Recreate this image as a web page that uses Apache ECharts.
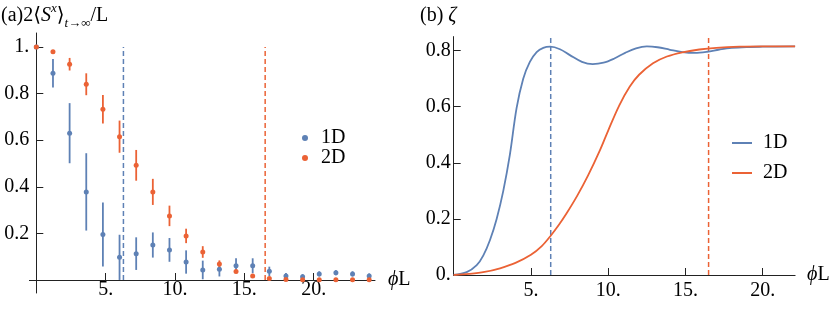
<!DOCTYPE html>
<html>
<head>
<meta charset="utf-8">
<script src="https://cdn.jsdelivr.net/npm/echarts@6/dist/echarts.min.js"></script>
<style>
html,body{margin:0;padding:0;background:#fff;}
#chart{width:830px;height:310px;}
</style>
</head>
<body>
<div id="chart"></div>
<script>
// ---------- data ----------
const phiL = [0, 1.2, 2.4, 3.6, 4.8, 6.0, 7.2, 8.4, 9.6, 10.8, 12.0, 13.2, 14.4, 15.6, 16.8, 18.0, 19.2, 20.4, 21.6, 22.8, 24.0];
const sx1D = [1.0, 0.887, 0.63, 0.378, 0.195, 0.097, 0.113, 0.15, 0.129, 0.077, 0.043, 0.046, 0.061, 0.061, 0.037, 0.017, 0.014, 0.026, 0.031, 0.026, 0.017];
const sx1DErr = [0, 0.061, 0.129, 0.166, 0.137, 0.097, 0.07, 0.054, 0.051, 0.05, 0.04, 0.031, 0.032, 0.032, 0.02, 0.013, 0.011, 0.011, 0.011, 0.011, 0.011];
const sx2D = [1.0, 0.979, 0.926, 0.84, 0.733, 0.615, 0.492, 0.378, 0.275, 0.189, 0.12, 0.069, 0.036, 0.017, 0.006, 0.002, 0.001, 0.001, 0.001, 0.001, 0.001];
const sx2DErr = [0, 0.005, 0.027, 0.047, 0.061, 0.069, 0.066, 0.056, 0.044, 0.031, 0.025, 0.015, 0.006, 0.003, 0.002, 0.001, 0.001, 0.001, 0.001, 0.001, 0.001];

const zeta1DX = [0, 0.84, 1.49, 1.92, 2.35, 2.78, 3.21, 3.64, 4.07, 4.5, 4.93, 5.37, 5.8, 6.25, 6.88, 7.52, 8.3, 9.0, 9.7, 10.4, 11.1, 11.8, 12.5, 13.2, 14.0, 14.8, 15.6, 16.4, 17.2, 18.0, 19.0, 20.0, 22.1];
const zeta1DY = [0, 0.01, 0.035, 0.07, 0.125, 0.2, 0.3, 0.43, 0.595, 0.7, 0.76, 0.795, 0.81, 0.814, 0.805, 0.784, 0.76, 0.752, 0.757, 0.772, 0.792, 0.808, 0.815, 0.812, 0.803, 0.795, 0.792, 0.796, 0.804, 0.81, 0.813, 0.814, 0.815];
const zeta2DX = [0, 1.0, 2.0, 3.0, 4.0, 5.0, 5.7, 6.28, 6.8, 7.31, 8.0, 8.7, 9.47, 10.0, 10.72, 11.4, 12.0, 12.9, 13.8, 14.8, 15.9, 17.0, 18.5, 20.0, 22.1];
const zeta2DY = [0, 0.004, 0.011, 0.024, 0.043, 0.072, 0.103, 0.14, 0.178, 0.22, 0.283, 0.355, 0.445, 0.515, 0.605, 0.672, 0.714, 0.755, 0.779, 0.794, 0.804, 0.81, 0.814, 0.815, 0.815];

const thresholds = [6.28, 16.5];           // dashed markers: 1D, 2D
const xTicks = [5, 10, 15, 20];
const xTickLabels = ['5.', '10.', '15.', '20.'];
const yTicksA = [0.2, 0.4, 0.6, 0.8, 1.0];
const yTickLabelsA = ['0.2', '0.4', '0.6', '0.8', '1.'];
const yTicksB = [0, 0.2, 0.4, 0.6, 0.8];
const yTickLabelsB = ['0.', '0.2', '0.4', '0.6', '0.8'];

// ---------- style ----------
const BLUE = '#5E81B5', ORANGE = '#EB6235', AX = '#222';
const FONT = "'Liberation Serif', 'DejaVu Serif', serif";
const FS = 20;

function labelFrom(ticks, labels) {
  return v => { const i = ticks.findIndex(t => Math.abs(t - v) < 1e-9); return i >= 0 ? labels[i] : ''; };
}
function errData(mean, err) { return phiL.map((x, i) => [x, mean[i] - err[i], mean[i] + err[i]]); }
function errSeries(name, mean, err, color) {
  return {
    type: 'custom', name: name, xAxisIndex: 0, yAxisIndex: 0, z: 2,
    data: errData(mean, err), encode: { x: 0, y: [1, 2] },
    renderItem: (params, api) => {
      const x = api.value(0);
      const p1 = api.coord([x, api.value(1)]), p2 = api.coord([x, api.value(2)]);
      return { type: 'line', shape: { x1: p1[0], y1: p1[1], x2: p2[0], y2: p2[1] },
               style: { stroke: color, lineWidth: 1.8 } };
    }
  };
}
function dashSeries(x, top, color, axisIdx) {
  return { type: 'line', xAxisIndex: axisIdx, yAxisIndex: axisIdx, data: [[x, 0], [x, top]],
           symbol: 'none', silent: true, z: 1,
           lineStyle: { color: color, width: 1.5, type: [5, 3] } };
}
const lineStyleAx = { color: AX, width: 1 };
const tickStyle = (vals) => ({ inside: true, length: 7, customValues: vals, lineStyle: { color: AX, width: 1 } });
const labelStyle = (vals, labels, margin) => ({ customValues: vals, formatter: labelFrom(vals, labels), margin: margin,
                                               fontFamily: FONT, fontSize: FS, color: '#000' });
const nameRich = {
  i: { fontFamily: FONT, fontSize: FS, fontStyle: 'italic', color: '#000' },
  n: { fontFamily: FONT, fontSize: FS, color: '#000' }
};
const tN = { fontFamily: FONT, fontSize: FS, lineHeight: 28, fontWeight: 'normal', color: '#000' };
const tI = Object.assign({}, tN, { fontStyle: 'italic' });

const chart = echarts.init(document.getElementById('chart'), null, { renderer: 'canvas' });
const option = {
  animation: false,
  backgroundColor: '#fff',
  title: [
    {
      text: '{n|(a)2⟨}{i|S}{sup|x}{n|⟩}{sub|t→∞}{n|/L}', left: 1, top: 2, padding: 0,
      textStyle: { fontWeight: 'normal', rich: {
        n: tN, i: tI,
        sup: { fontFamily: FONT, fontSize: 13, lineHeight: 14, fontStyle: 'italic', fontWeight: 'normal', verticalAlign: 'top', color: '#000' },
        sub: { fontFamily: FONT, fontSize: 13, lineHeight: 14, fontStyle: 'italic', fontWeight: 'normal', verticalAlign: 'bottom', color: '#000' }
      } }
    },
    {
      text: '{n|(b) }{i|ζ}', left: 420, top: 2, padding: 0,
      textStyle: { fontWeight: 'normal', rich: { n: tN, i: tI } }
    }
  ],
  legend: [
    {
      data: [{ name: '1D', icon: 'circle' }, { name: '2D', icon: 'circle' }],
      orient: 'vertical', left: 302, top: 128, padding: 0, itemGap: 0,
      itemWidth: 6, itemHeight: 6, selectedMode: false,
      formatter: '{g|}{t|{name}}',
      textStyle: { rich: { g: { width: 8 }, t: { fontFamily: FONT, fontSize: FS, lineHeight: 20, color: '#000' } } }
    },
    {
      data: [{ name: '1D', icon: 'rect' }, { name: '2D', icon: 'rect' }],
      orient: 'vertical', left: 732, top: 133, padding: 0, itemGap: 10,
      itemWidth: 20, itemHeight: 2, selectedMode: false,
      formatter: '{g|}{t|{name}}',
      textStyle: { rich: { g: { width: 6 }, t: { fontFamily: FONT, fontSize: FS, lineHeight: 20, color: '#000' } } }
    }
  ],
  grid: [
    // panel (a): full extent, axis lines through the origin
    { left: 29.4, top: 33, width: 345.6, height: 260, containLabel: false, outerBoundsMode: 'none' },
    // panel (b)
    { left: 453.7, top: 36.6, width: 341.4, height: 238.4, containLabel: false, outerBoundsMode: 'none' },
    // panel (a): positive quadrant, carries ticks and tick labels at the origin lines
    { left: 36.3, top: 33, width: 338.7, height: 247, containLabel: false, outerBoundsMode: 'none' }
  ],
  xAxis: [
    { type: 'value', gridIndex: 0, min: -0.5, max: 24.42,
      axisLine: { onZero: true, lineStyle: lineStyleAx }, axisTick: { show: false }, axisLabel: { show: false },
      splitLine: { show: false },
      name: '{i|ϕ}{n|L}', nameLocation: 'end', nameGap: 13,
      nameTextStyle: { rich: nameRich, verticalAlign: 'middle' } },
    { type: 'value', gridIndex: 1, min: 0, max: 22.1,
      axisLine: { onZero: true, lineStyle: lineStyleAx }, axisTick: tickStyle(xTicks),
      axisLabel: labelStyle(xTicks, xTickLabels, 6), splitLine: { show: false },
      name: '{i|ϕ}{n|L}', nameLocation: 'end', nameGap: 12,
      nameTextStyle: { rich: nameRich, verticalAlign: 'middle' } },
    { type: 'value', gridIndex: 2, min: 0, max: 24.42,
      axisLine: { show: false }, axisTick: tickStyle(xTicks),
      axisLabel: labelStyle(xTicks, xTickLabels, 0), splitLine: { show: false } }
  ],
  yAxis: [
    { type: 'value', gridIndex: 0, min: -0.056, max: 1.06,
      axisLine: { onZero: true, lineStyle: lineStyleAx }, axisTick: { show: false }, axisLabel: { show: false },
      splitLine: { show: false } },
    { type: 'value', gridIndex: 1, min: 0, max: 0.85,
      axisLine: { onZero: true, lineStyle: lineStyleAx }, axisTick: tickStyle(yTicksB),
      axisLabel: labelStyle(yTicksB, yTickLabelsB, 3), splitLine: { show: false } },
    { type: 'value', gridIndex: 2, min: 0, max: 1.06,
      axisLine: { show: false }, axisTick: tickStyle(yTicksA),
      axisLabel: labelStyle(yTicksA, yTickLabelsA, 7), splitLine: { show: false } }
  ],
  series: [
    dashSeries(thresholds[0], 1.0, BLUE, 0),
    dashSeries(thresholds[1], 1.0, ORANGE, 0),
    dashSeries(thresholds[0], 0.85, BLUE, 1),
    dashSeries(thresholds[1], 0.85, ORANGE, 1),
    errSeries('err1D', sx1D, sx1DErr, BLUE),
    { type: 'scatter', name: '1D', xAxisIndex: 0, yAxisIndex: 0, z: 3, symbolSize: 5,
      itemStyle: { color: BLUE, opacity: 1 }, data: phiL.map((x, i) => [x, sx1D[i]]) },
    errSeries('err2D', sx2D, sx2DErr, ORANGE),
    { type: 'scatter', name: '2D', xAxisIndex: 0, yAxisIndex: 0, z: 4, symbolSize: 5,
      itemStyle: { color: ORANGE, opacity: 1 }, data: phiL.map((x, i) => [x, sx2D[i]]) },
    { type: 'line', name: '1D', xAxisIndex: 1, yAxisIndex: 1, smooth: 0.35, showSymbol: false, symbol: 'none',
      lineStyle: { color: BLUE, width: 1.8 }, itemStyle: { color: BLUE },
      data: zeta1DX.map((x, i) => [x, zeta1DY[i]]) },
    { type: 'line', name: '2D', xAxisIndex: 1, yAxisIndex: 1, smooth: 0.35, showSymbol: false, symbol: 'none',
      lineStyle: { color: ORANGE, width: 1.8 }, itemStyle: { color: ORANGE },
      data: zeta2DX.map((x, i) => [x, zeta2DY[i]]) }
  ]
};
chart.setOption(option);
</script>
</body>
</html>
